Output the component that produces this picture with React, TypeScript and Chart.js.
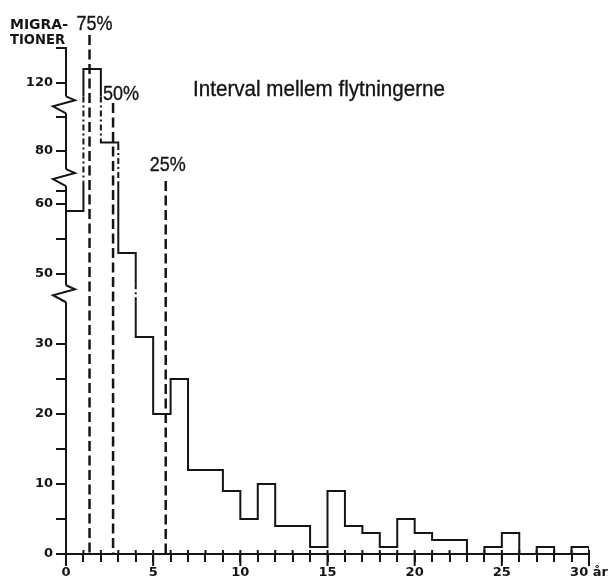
import React, { useEffect, useRef } from 'react';
import { Chart, registerables } from 'chart.js';

Chart.register(...registerables);

// ---------- data ----------
const BIN_START = [0, 1, 2, 3, 4, 5, 6, 7, 8, 9, 10, 11, 12, 13, 14, 15, 16, 17, 18, 19, 20, 21, 22, 23, 24, 25, 26, 27, 28, 29];
const COUNTS = [59, 128, 85, 53, 32, 20, 25, 12, 12, 9, 5, 10, 4, 4, 1, 9, 4, 3, 1, 5, 3, 2, 2, 0, 1, 3, 0, 1, 0, 1];
const X_MAX = 30;
const X_LABELS = [0, 5, 10, 15, 20, 25, 30];
const X_UNIT = 'år';
const Y_TICKS = [0, 5, 10, 15, 20, 25, 30, 50, 55, 60, 65, 80, 100, 120, 140];
const Y_LABELS = [0, 10, 20, 30, 50, 60, 80, 120];
const Y_TITLE = ['MIGRA-', 'TIONER'];
const TITLE = 'Interval mellem flytningerne';
const PCT_LABELS = ['75%', '50%', '25%'];
const PCT_X = [1.35, 2.7, 5.72];

// broken (piece-wise) y axis: real count -> display units
const SCALE_REAL = [0, 30, 50, 60, 80, 120, 140];
const SCALE_DISP = [0, 30, 40, 50, 57.6, 67.3, 72.3];
const BREAKS_DISP = [37.4, 54, 64.4];
const DASH_ZONES_DISP = [[53, 65.6], [35.9, 38.9]];

function toDisp(v: number): number {
  for (let i = 1; i < SCALE_REAL.length; i++) {
    if (v <= SCALE_REAL[i]) {
      const r0 = SCALE_REAL[i - 1], r1 = SCALE_REAL[i];
      const d0 = SCALE_DISP[i - 1], d1 = SCALE_DISP[i];
      return d0 + ((v - r0) / (r1 - r0)) * (d1 - d0);
    }
  }
  return SCALE_DISP[SCALE_DISP.length - 1];
}

const INK = '#151515';
const TICK_FONT = '"DejaVu Sans", sans-serif';
const TEXT_FONT = '"Liberation Sans", Arial, sans-serif';

function fitText(ctx: CanvasRenderingContext2D, text: string, x: number, y: number, w: number, font: string, align: CanvasTextAlign = 'left', weight = 0) {
  ctx.save();
  ctx.font = font;
  const m = ctx.measureText(text).width;
  ctx.translate(x, y);
  ctx.scale(w / m, 1);
  ctx.textAlign = align;
  ctx.textBaseline = 'alphabetic';
  ctx.fillStyle = INK;
  ctx.fillText(text, 0, 0);
  if (weight > 0) {
    ctx.strokeStyle = INK;
    ctx.lineWidth = weight;
    ctx.lineJoin = 'round';
    ctx.strokeText(text, 0, 0);
  }
  ctx.restore();
}

const decorPlugin = {
  id: 'decor',
  afterDraw(chart: any) {
    const ctx: CanvasRenderingContext2D = chart.ctx;
    const xs = chart.scales.x;
    const ys = chart.scales.y;
    const left = chart.chartArea.left;
    const axisY = ys.getPixelForValue(0);
    ctx.save();
    ctx.strokeStyle = INK;

    // dash-dot bar edges in the broken zones
    for (const [d0, d1] of DASH_ZONES_DISP) {
      for (let i = 1; i < COUNTS.length; i++) {
        const a = toDisp(COUNTS[i - 1]);
        const b = toDisp(COUNTS[i]);
        const lo = Math.max(Math.min(a, b), d0);
        const hi = Math.min(Math.max(a, b), d1);
        if (hi <= lo) continue;
        const px = xs.getPixelForValue(BIN_START[i]);
        const y1 = ys.getPixelForValue(hi);
        const y2 = ys.getPixelForValue(lo);
        ctx.fillStyle = '#fff';
        ctx.fillRect(px - 2, y1 + 1.5, 4, y2 - y1 - 3);
        ctx.lineWidth = 2;
        ctx.setLineDash([6, 3, 2, 3]);
        ctx.beginPath();
        ctx.moveTo(px, y1 + 1.5);
        ctx.lineTo(px, y2 - 1.5);
        ctx.stroke();
      }
    }
    ctx.setLineDash([]);

    // y axis breaks (zig-zag)
    ctx.lineWidth = 2;
    for (const d of BREAKS_DISP) {
      const c = ys.getPixelForValue(d);
      ctx.fillStyle = '#fff';
      ctx.fillRect(left - 3, c - 7, 6, 17);
      ctx.beginPath();
      ctx.moveTo(left, c - 7);
      ctx.lineTo(left + 9, c - 3);
      ctx.lineTo(left - 13, c + 3);
      ctx.lineTo(left, c + 10);
      ctx.stroke();
    }

    // x tick extensions
    ctx.lineWidth = 2;
    for (let i = 0; i <= X_MAX; i++) {
      const px = xs.getPixelForValue(i);
      ctx.beginPath();
      ctx.moveTo(px, axisY - 4);
      ctx.lineTo(px, X_LABELS.includes(i) ? axisY + 12 : axisY);
      ctx.stroke();
    }

    // percentile dashed lines
    const tops = [35, 103, 181];
    const dx = [5, 8, 2];
    const base = [30, 100, 171];
    ctx.lineWidth = 2.5;
    ctx.setLineDash([10, 4.5]);
    PCT_X.forEach((v, i) => {
      const px = xs.getPixelForValue(v);
      ctx.beginPath();
      ctx.moveTo(px, tops[i]);
      ctx.lineTo(px, axisY);
      ctx.stroke();
    });
    ctx.setLineDash([]);
    PCT_LABELS.forEach((t, i) => {
      const px = xs.getPixelForValue(PCT_X[i]);
      fitText(ctx, t, px + dx[i], base[i], 36, `20px ${TEXT_FONT}`, 'center', 0.35);
    });

    // y title & chart title
    fitText(ctx, Y_TITLE[0], 10, 29, 58, `bold 14px ${TICK_FONT}`);
    fitText(ctx, Y_TITLE[1], 10, 44, 55, `bold 14px ${TICK_FONT}`);
    fitText(ctx, TITLE, 193, 96, 252, `22px ${TEXT_FONT}`, 'left', 0.35);
    ctx.restore();
  },
};

export default function App() {
  const ref = useRef<HTMLCanvasElement | null>(null);
  useEffect(() => {
    if (!ref.current) return;
    const points = BIN_START.map((x, i) => ({ x, y: toDisp(COUNTS[i]) }));
    points.push({ x: X_MAX, y: 0 });
    const chart = new Chart(ref.current, {
      type: 'line',
      data: {
        datasets: [
          {
            data: points,
            stepped: 'before',
            borderColor: INK,
            borderWidth: 2,
            pointRadius: 0,
            fill: false,
            borderJoinStyle: 'miter',
          } as any,
        ],
      },
      options: {
        animation: false,
        responsive: false,
        devicePixelRatio: 1,
        layout: { padding: { left: 0, top: 48, right: 24, bottom: 0 } },
        plugins: { legend: { display: false }, tooltip: { enabled: false }, title: { display: false } },
        scales: {
          x: {
            type: 'linear',
            min: 0,
            max: X_MAX,
            afterBuildTicks: (s: any) => {
              s.ticks = BIN_START.concat([X_MAX]).map((v) => ({ value: v }));
            },
            afterFit: (s: any) => {
              s.height = 25;
            },
            ticks: {
              autoSkip: false,
              maxRotation: 0,
              padding: 3,
              color: INK,
              font: { family: TICK_FONT, size: 13, weight: 'bold' },
              callback: (v: any) => {
                const n = Number(v);
                if (!X_LABELS.includes(n)) return '';
                return n === X_MAX ? `${n} ${X_UNIT}` : String(n);
              },
            },
            grid: { drawOnChartArea: false, tickLength: 8, color: INK, lineWidth: 2 },
            border: { color: INK, width: 2 },
          },
          y: {
            type: 'linear',
            min: 0,
            max: toDisp(Y_TICKS[Y_TICKS.length - 1]),
            afterBuildTicks: (s: any) => {
              s.ticks = Y_TICKS.map((v) => ({ value: toDisp(v) }));
            },
            afterFit: (s: any) => {
              s.width = 66;
            },
            ticks: {
              autoSkip: false,
              padding: 3,
              color: INK,
              font: { family: TICK_FONT, size: 13, weight: 'bold' },
              callback: (_v: any, idx: number) => {
                const r = Y_TICKS[idx];
                return Y_LABELS.includes(r) ? String(r) : '';
              },
            },
            grid: { drawOnChartArea: false, tickLength: 10, color: INK, lineWidth: 2 },
            border: { color: INK, width: 2 },
          },
        },
      },
      plugins: [decorPlugin],
    });
    return () => chart.destroy();
  }, []);
  return (
    <div style={{ position: 'absolute', left: 0, top: 0, width: 613, height: 579, background: '#fff' }}>
      <canvas ref={ref} width={613} height={579} style={{ display: 'block' }} />
    </div>
  );
}
